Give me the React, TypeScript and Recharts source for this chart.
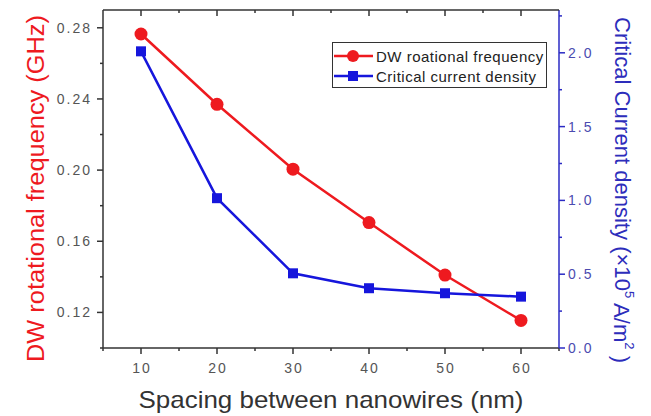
import { LineChart, Line, XAxis, YAxis, Legend } from 'recharts'

const spacing = [10, 20, 30, 40, 50, 60]
const dwFrequency = [0.2765, 0.237, 0.2005, 0.1705, 0.141, 0.1155]
const criticalCurrent = [2.01, 1.015, 0.506, 0.405, 0.371, 0.348]

const xTicks = [5, 10, 15, 20, 25, 30, 35, 40, 45, 50, 55, 60, 65]
const xLabels = [10, 20, 30, 40, 50, 60]
const leftTicks = [0.1, 0.12, 0.14, 0.16, 0.18, 0.2, 0.22, 0.24, 0.26, 0.28]
const leftLabels = [0.12, 0.16, 0.2, 0.24, 0.28]
const rightTicks = [0, 0.25, 0.5, 0.75, 1, 1.25, 1.5, 1.75, 2, 2.25]
const rightLabels = [0, 0.5, 1, 1.5, 2]
const legendOrder = ['freq', 'jc']

const X_DOMAIN = [5, 65]
const PLOT_LEFT = 103
const PLOT_TOP = 10
const PLOT_W = 456
const LEGEND_LEFT = 332
const LEGEND_TOP = 42

const RED = '#ee1a1f'
const BLUE = '#1616dc'
const FRAME = '#333'
const FONT = '"Liberation Sans", Arial, sans-serif'

const data = spacing.map((s, i) => ({
  spacing: s,
  freq: dwFrequency[i],
  jc: criticalCurrent[i],
}))

const isIn = (arr: number[], v: number) => arr.some((a) => Math.abs(a - v) < 1e-9)
const xPos = (t: number) => ((t - X_DOMAIN[0]) / (X_DOMAIN[1] - X_DOMAIN[0])) * PLOT_W

function makeTick(side: 'bottom' | 'left' | 'right', labels: number[], fmt: (v: number) => string, color: string, lineColor: string) {
  return (props: any) => {
    const { x, y, payload } = props
    const v = payload.value
    const major = isIn(labels, v)
    const len = major ? 6 : 3
    const common = { fontFamily: FONT, fontSize: 14, fill: color, letterSpacing: 2 }
    if (side === 'bottom') {
      return (
        <g>
          <line x1={x} y1={y} x2={x} y2={y + len} stroke={lineColor} strokeWidth={1.5} />
          {major && <text x={x + 1} y={y + 25} textAnchor="middle" {...common}>{fmt(v)}</text>}
        </g>
      )
    }
    if (side === 'left') {
      return (
        <g>
          <line x1={x} y1={y} x2={x - len} y2={y} stroke={lineColor} strokeWidth={1.5} />
          {major && <text x={x - 11} y={y + 5} textAnchor="end" {...common}>{fmt(v)}</text>}
        </g>
      )
    }
    return (
      <g>
        <line x1={x} y1={y} x2={x + len} y2={y} stroke={lineColor} strokeWidth={1.5} />
        {major && <text x={x + 9} y={y + 5} textAnchor="start" {...common}>{fmt(v)}</text>}
      </g>
    )
  }
}

const BlueSquare = (props: any) => {
  const { cx, cy, index } = props
  if (cx == null || cy == null) return <g key={index} />
  return <rect key={index} x={cx - 5} y={cy - 5} width={10} height={10} fill={BLUE} />
}

// top frame of the plot box with inward ticks, drawn in the overlay layer
const TopFrame = () => (
  <svg
    width={PLOT_W + 2} height={10}
    style={{ position: 'absolute', left: PLOT_LEFT - LEGEND_LEFT - 1, top: PLOT_TOP - LEGEND_TOP - 1, overflow: 'visible' }}
  >
    <line x1={1} y1={1} x2={PLOT_W + 1} y2={1} stroke={FRAME} strokeWidth={1.5} />
    {xTicks.filter((t) => t > X_DOMAIN[0] && t < X_DOMAIN[1]).map((t) => (
      <line key={t} x1={xPos(t) + 1} y1={1} x2={xPos(t) + 1} y2={1 + (isIn(xLabels, t) ? 6 : 3)} stroke={FRAME} strokeWidth={1.5} />
    ))}
  </svg>
)

const LegendBox = (props: any) => {
  const items = (props.payload || [])
    .filter((a: any) => legendOrder.includes(a.dataKey))
    .sort((a: any, b: any) => legendOrder.indexOf(a.dataKey) - legendOrder.indexOf(b.dataKey))
  return (
    <div style={{ position: 'relative' }}>
      <TopFrame />
      <div style={{ width: 213, height: 44, border: '1.5px solid #333', background: '#fff', position: 'relative', fontFamily: FONT }}>
        {items.map((it: any, i: number) => {
          const isFreq = it.dataKey === 'freq'
          return (
            <div key={i} style={{ position: 'absolute', left: 0, top: 5 + i * 20, height: 16, display: 'flex', alignItems: 'center' }}>
              <svg width={41} height={16}>
                <line x1={1} y1={8} x2={40} y2={8} stroke={it.color} strokeWidth={2.5} />
                {isFreq ? <circle cx={20} cy={8} r={6} fill={it.color} /> : <rect x={15} y={3} width={10} height={10} fill={it.color} />}
              </svg>
              <span style={{ marginLeft: 2, fontSize: 15, letterSpacing: 0.5, color: '#222', whiteSpace: 'nowrap' }}>{it.value}</span>
            </div>
          )
        })}
      </div>
    </div>
  )
}

export default function App() {
  return (
    <div style={{ position: 'absolute', left: 0, top: 0, width: 651, height: 416, background: '#fff' }}>
      <LineChart width={651} height={416} data={data} margin={{ top: PLOT_TOP, right: 0, bottom: 0, left: 0 }}>
        <XAxis
          xAxisId="b" dataKey="spacing" type="number" domain={X_DOMAIN} ticks={xTicks}
          height={68} tickSize={0} tickMargin={0} tickLine={false} interval={0}
          axisLine={{ stroke: FRAME, strokeWidth: 1.5 }}
          tick={makeTick('bottom', xLabels, (v) => String(v), '#555', FRAME)}
          label={(p: any) => {
            const vb = p.viewBox
            return (
              <text x={vb.x + vb.width / 2} y={408} textAnchor="middle" fontFamily={FONT} fontSize={24} fill="#333" textLength={385} lengthAdjust="spacingAndGlyphs">
                Spacing between nanowires (nm)
              </text>
            )
          }}
        />
        <YAxis
          yAxisId="l" orientation="left" type="number" domain={[0.1, 0.29]} ticks={leftTicks}
          width={PLOT_LEFT} tickSize={0} tickMargin={0} tickLine={false} interval={0} allowDataOverflow
          axisLine={{ stroke: FRAME, strokeWidth: 1.5 }}
          tick={makeTick('left', leftLabels, (v) => v.toFixed(2), '#555', FRAME)}
          label={() => (
            <text x={36} y={188.5} transform="rotate(-90, 36, 188.5)" textAnchor="middle" dominantBaseline="central" fontFamily={FONT} fontSize={23} fill={RED} textLength={347} lengthAdjust="spacingAndGlyphs">
              DW rotational frequency (GHz)
            </text>
          )}
        />
        <YAxis
          yAxisId="r" orientation="right" type="number" domain={[0, 2.29]} ticks={rightTicks}
          width={92} tickSize={0} tickMargin={0} tickLine={false} interval={0} allowDataOverflow
          axisLine={{ stroke: '#2b2bc4', strokeWidth: 1.5 }}
          tick={makeTick('right', rightLabels, (v) => v.toFixed(1), '#4b4bb0', '#2b2bc4')}
          label={() => (
            <text x={622} y={190} transform="rotate(90, 622, 190)" textAnchor="middle" dominantBaseline="central" fontFamily={FONT} fontSize={22} fill="#2d2dbb" textLength={346} lengthAdjust="spacingAndGlyphs">
              Critical Current density (×10<tspan dy={-8} fontSize={13}>5</tspan><tspan dy={8}> A/m</tspan><tspan dy={-8} fontSize={13}>2</tspan><tspan dy={8}> )</tspan>
            </text>
          )}
        />
        <Legend
          layout="horizontal" verticalAlign="middle" align="center"
          wrapperStyle={{ left: LEGEND_LEFT, top: LEGEND_TOP, width: 215, zIndex: 5 }}
          content={<LegendBox />}
        />
        <Line
          xAxisId="b" yAxisId="l" dataKey="freq" name="DW roational frequency"
          stroke={RED} strokeWidth={2.5} dot={{ r: 6.5, fill: RED, stroke: RED, strokeWidth: 0 }}
          isAnimationActive={false}
        />
        <Line
          xAxisId="b" yAxisId="r" dataKey="jc" name="Critical current density"
          stroke={BLUE} strokeWidth={2.5} dot={<BlueSquare />}
          isAnimationActive={false}
        />
      </LineChart>
    </div>
  )
}
